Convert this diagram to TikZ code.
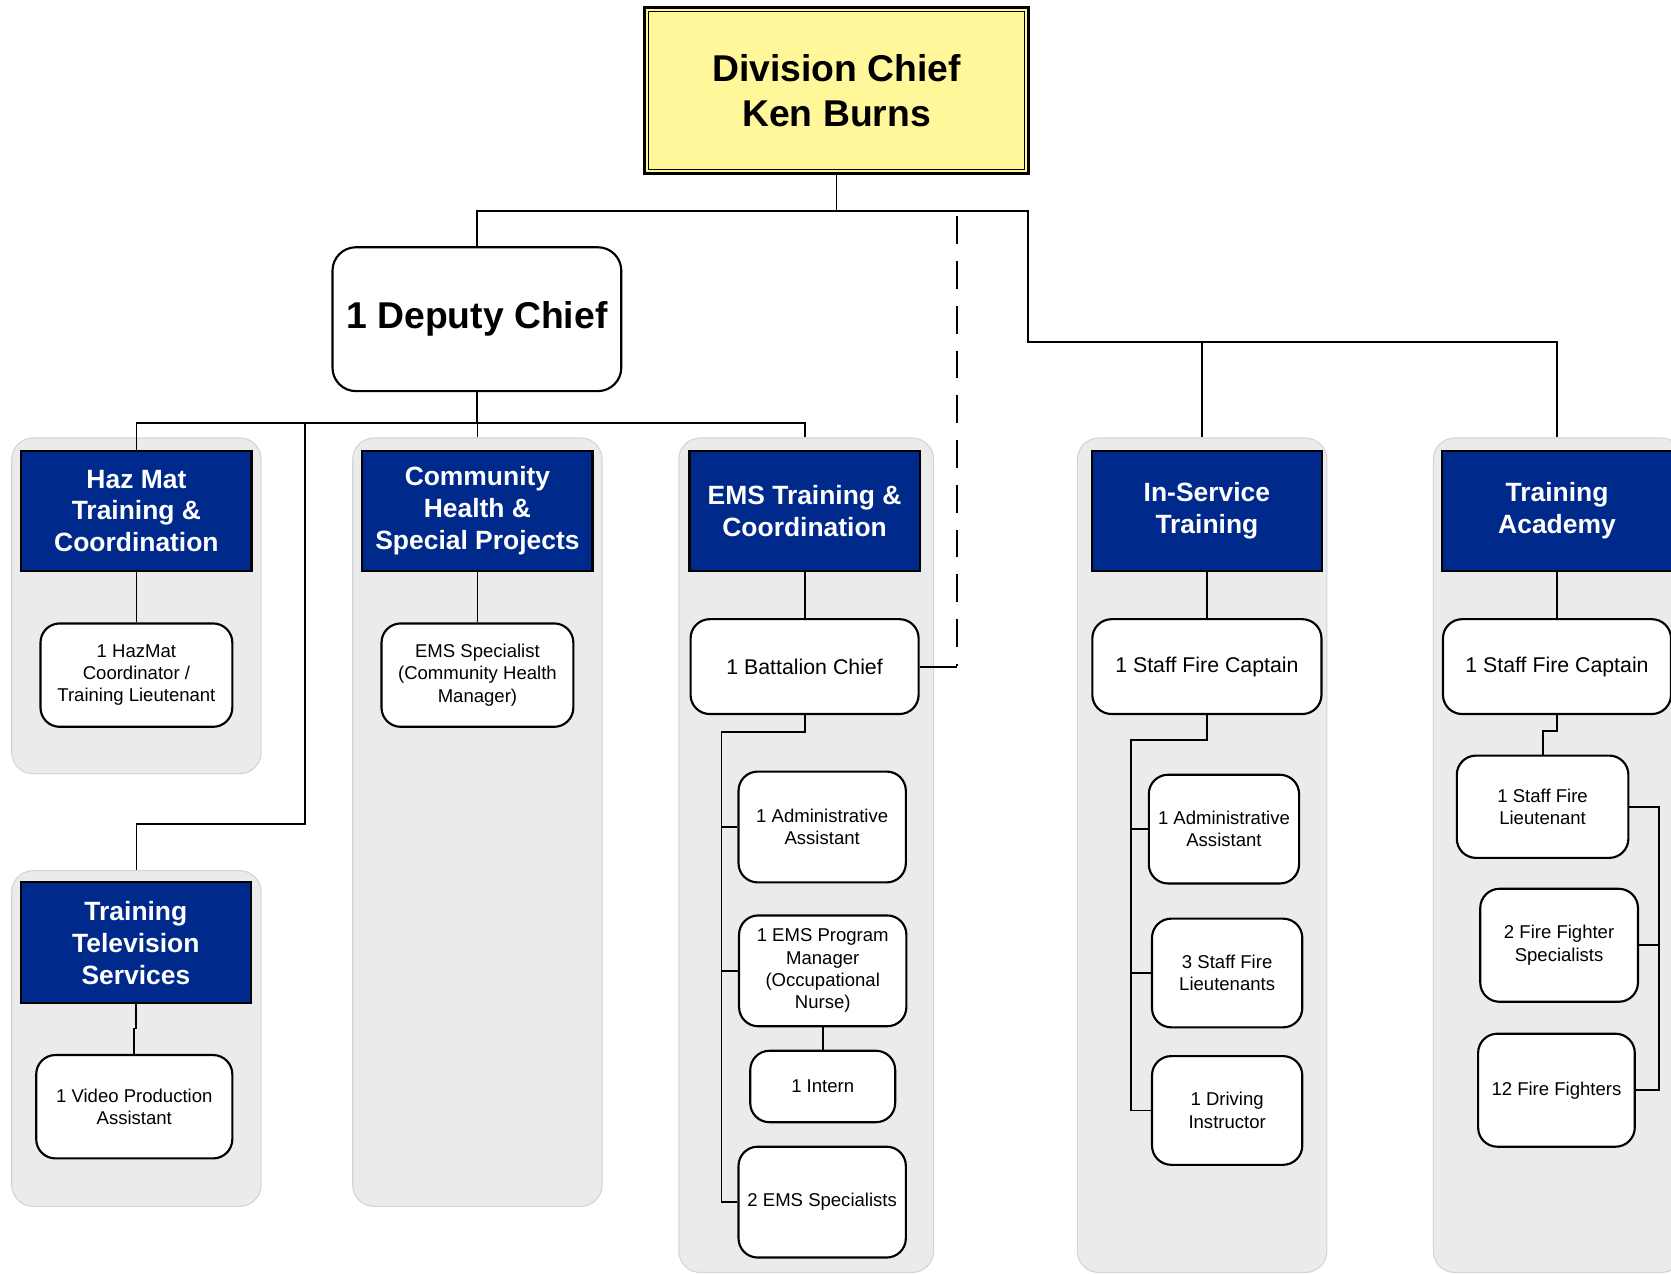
\documentclass[tikz,border=0pt]{standalone}
\usepackage{fontspec}
\setmainfont{Liberation Sans}
\definecolor{navy}{RGB}{0,41,140}
\definecolor{dcyellow}{RGB}{255,247,153}
\definecolor{grp}{RGB}{235,235,235}
\definecolor{grpline}{RGB}{212,212,212}
\begin{document}
\begin{tikzpicture}[x=1pt,y=-1pt,
 grpbox/.style={draw=grpline, fill=grp, line width=1pt, rounded corners=20pt, inner sep=0pt},
 head/.style={draw=black, fill=navy, text=white, line width=2pt, inner sep=0pt, minimum width=216pt, minimum height=113pt, align=center, font=\fontsize{24.8}{30}\selectfont\bfseries},
 role/.style={draw=black, fill=white, line width=2pt, rounded corners=18pt, inner sep=0pt, align=center, font=\fontsize{17.4}{21}\selectfont},
 rolebig/.style={role, font=\fontsize{20}{24}\selectfont},
 conn/.style={line width=1.7pt},
 dashconn/.style={line width=1.7pt, dash pattern=on 26pt off 16pt},
]
\useasboundingbox (0,0) rectangle (1568,1195);
\clip (0,0) rectangle (1568,1195);
\fill[white] (0,0) rectangle (1568,1195);

% group containers
\node[grpbox, minimum width=234pt, minimum height=315pt] (hzG) at (128,568.5) {};
\node[grpbox, minimum width=234pt, minimum height=315pt] (tvG) at (128,974.5) {};
\node[grpbox, minimum width=234pt, minimum height=721pt] (chG) at (448,771.5) {};
\node[grpbox, minimum width=239pt, minimum height=783pt] (emsG) at (756.5,802.5) {};
\node[grpbox, minimum width=234pt, minimum height=783pt] (isG) at (1128,802.5) {};
\node[grpbox, minimum width=234pt, minimum height=783pt] (taG) at (1462,802.5) {};

% top
\node[draw, line width=2.4pt, fill=dcyellow, minimum width=360pt, minimum height=156pt, inner sep=0pt, align=center, font=\fontsize{35}{42}\selectfont\bfseries] (dc) at (785,85) {Division Chief\\Ken Burns};
\draw[line width=1pt] ([shift={(5,5)}]dc.north west) rectangle ([shift={(-5,-5)}]dc.south east);
\node[role, rounded corners=22pt, minimum width=271pt, minimum height=135pt, font=\fontsize{35}{42}\selectfont\bfseries] (dep) at (447.5,299.5) {1 Deputy Chief};

% headers
\node[head] (hzH) at (128,479.5) {Haz Mat\\Training \&\\Coordination};
\node[head] (chH) at (448,479.5) {Community\\Health \&\\Special Projects};
\node[head] (emsH) at (755,479.5) {EMS Training \&\\Coordination};
\node[head] (isH) at (1132.5,479.5) {In-Service\\Training};
\node[head] (taH) at (1461,479.5) {Training\\Academy};
\node[head] (tvH) at (127.5,884.5) {Training\\Television\\Services};

% roles
\node[role, minimum width=180pt, minimum height=97pt] (hz1) at (128,633.5) {1 HazMat\\Coordinator /\\Training Lieutenant};
\node[role, minimum width=180pt, minimum height=97pt] (ch1) at (448,633.5) {EMS Specialist\\(Community Health\\Manager)};
\node[rolebig, minimum width=214pt, minimum height=89pt] (bc) at (755,625.5) {1 Battalion Chief};
\node[role, minimum width=157pt, minimum height=104pt] (ema) at (771.5,776) {1 Administrative\\Assistant};
\node[role, minimum width=157pt, minimum height=104pt] (emp) at (772,911) {1 EMS Program\\Manager\\(Occupational\\Nurse)};
\node[role, minimum width=136pt, minimum height=67pt] (int) at (772,1019.5) {1 Intern};
\node[role, minimum width=157pt, minimum height=104pt] (ems2) at (771.5,1128) {2 EMS Specialists};
\node[rolebig, minimum width=215pt, minimum height=89pt] (isc) at (1132.5,625.5) {1 Staff Fire Captain};
\node[role, minimum width=141pt, minimum height=102pt] (isa) at (1148.5,778) {1 Administrative\\Assistant};
\node[role, minimum width=141pt, minimum height=102pt] (isl) at (1151.5,913) {3 Staff Fire\\Lieutenants};
\node[role, minimum width=141pt, minimum height=102pt] (isd) at (1151.5,1042) {1 Driving\\Instructor};
\node[rolebig, minimum width=214pt, minimum height=89pt] (tac) at (1461,625.5) {1 Staff Fire Captain};
\node[role, minimum width=161pt, minimum height=96pt] (tal) at (1447.5,757) {1 Staff Fire\\Lieutenant};
\node[role, minimum width=148pt, minimum height=106pt] (taf) at (1463,887) {2 Fire Fighter\\Specialists};
\node[role, minimum width=147pt, minimum height=106pt] (taff) at (1460.5,1023) {12 Fire Fighters};
\node[role, minimum width=184pt, minimum height=97pt] (tv1) at (126,1038.5) {1 Video Production\\Assistant};

% coordinates
\coordinate (b1) at (0,198);
\coordinate (j1) at (965,321);
\coordinate (b2) at (0,397);
\coordinate (j2) at (286,773);
\coordinate (dT) at (898,203);
\coordinate (dB) at (898,625);
\coordinate (eb) at (677,687);
\coordinate (ib) at (1061,694);
\coordinate (tj) at (1461,686);
\coordinate (tr) at (1557,757);
\coordinate (tvj) at (127.5,965);

% top connectors
\draw[conn] (dc.south) -- (dc.south |- b1);
\draw[conn] (dep.north) |- (j1 |- b1) -- (j1) -| (taH.north |- taG.north);
\draw[conn] (isG.north) -- (isG.north |- j1);
\draw[dashconn] (dT) -- (dB);
\draw[conn] (bc.east) -- (bc.east -| dB);

% deputy connectors
\draw[conn] (dep.south) -- (dep.south |- b2);
\draw[conn] (hzH.north) |- (bc.north |- b2) -- (bc.north |- emsG.north);
\draw[conn] (chG.north) -- (chG.north |- b2);
\draw[conn] (tvG.north) |- (j2) -- (j2 |- b2);

% inner connectors
\draw[conn] (hzH.south) -- (hz1.north);
\draw[conn] (chH.south) -- (ch1.north);
\draw[conn] (emsH.south) -- (bc.north);
\draw[conn] (isH.south) -- (isc.north);
\draw[conn] (taH.south) -- (tac.north);
\draw[conn] (tvH.south) -- (tvj) -| (tv1.north);

\draw[conn] (bc.south) |- (eb) |- (ems2.west);
\draw[conn] (eb |- ema.west) -- (ema.west);
\draw[conn] (eb |- emp.west) -- (emp.west);
\draw[conn] (emp.south) -- (int.north);

\draw[conn] (isc.south) |- (ib) |- (isd.west);
\draw[conn] (ib |- isa.west) -- (isa.west);
\draw[conn] (ib |- isl.west) -- (isl.west);

\draw[conn] (tac.south) -- (tj) -| (tal.north);
\draw[conn] (tal.east) -- (tal.east -| tr) |- (taff.east);
\draw[conn] (taf.east) -- (taf.east -| tr);
\end{tikzpicture}
\end{document}
